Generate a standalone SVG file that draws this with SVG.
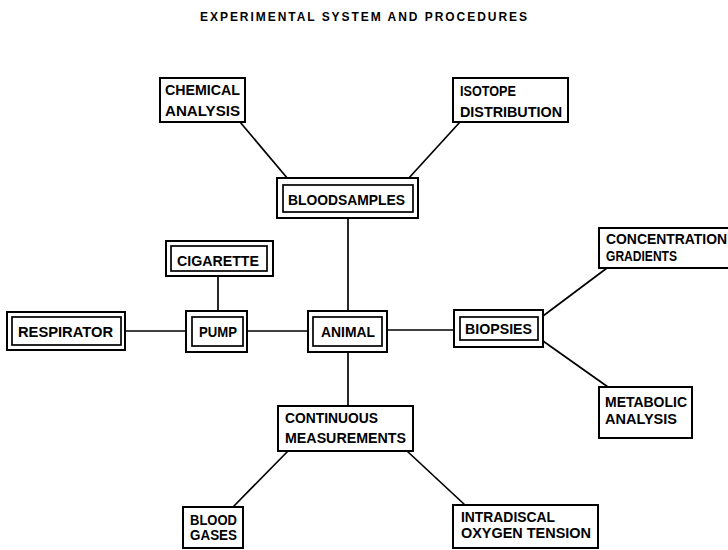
<svg xmlns="http://www.w3.org/2000/svg" width="728" height="550" viewBox="0 0 728 550">
<style>
.bg{fill:#fff}
.box{fill:#fff;stroke:#000;stroke-width:2}
.inner{fill:none;stroke:#000;stroke-width:1.7}
.ln{stroke:#000;stroke-width:1.7;fill:none}
text{font-family:"Liberation Sans",Arial,sans-serif;font-weight:bold;font-size:14px;fill:#000}
.title{font-size:12px}
</style>
<rect class="bg" x="0" y="0" width="728" height="550"/>
<text class="title" x="200" y="21" textLength="327" lengthAdjust="spacing">EXPERIMENTAL  SYSTEM  AND  PROCEDURES</text>
<g id="connectors">
<line class="ln" x1="240" y1="122" x2="288" y2="179"/>
<line class="ln" x1="460" y1="122" x2="408" y2="179"/>
<line class="ln" x1="348" y1="218" x2="348" y2="311"/>
<line class="ln" x1="218" y1="276" x2="218" y2="311"/>
<line class="ln" x1="125" y1="331" x2="186" y2="331"/>
<line class="ln" x1="247" y1="331" x2="308" y2="331"/>
<line class="ln" x1="387" y1="330" x2="454" y2="330"/>
<line class="ln" x1="543" y1="316" x2="607" y2="268"/>
<line class="ln" x1="543" y1="341" x2="608" y2="387"/>
<line class="ln" x1="348" y1="352" x2="348" y2="406"/>
<line class="ln" x1="288" y1="451" x2="233" y2="507"/>
<line class="ln" x1="407" y1="451" x2="465" y2="505"/>
</g>
<g id="chemical">
<rect class="box" x="160" y="78" width="85" height="44"/>
<text x="165" y="95" textLength="75" lengthAdjust="spacingAndGlyphs">CHEMICAL</text>
<text x="165" y="116" textLength="75" lengthAdjust="spacingAndGlyphs">ANALYSIS</text>
</g>
<g id="isotope">
<rect class="box" x="453" y="78" width="115" height="44"/>
<text x="460" y="96" textLength="56" lengthAdjust="spacingAndGlyphs">ISOTOPE</text>
<text x="460" y="117" textLength="102" lengthAdjust="spacingAndGlyphs">DISTRIBUTION</text>
</g>
<g id="bloodsamples">
<rect class="box" x="277" y="178" width="141" height="40"/>
<rect class="inner" x="283" y="185" width="130" height="27"/>
<text x="288" y="205" textLength="117" lengthAdjust="spacingAndGlyphs">BLOODSAMPLES</text>
</g>
<g id="cigarette">
<rect class="box" x="166" y="241" width="107" height="35"/>
<rect class="inner" x="171" y="246" width="96" height="25"/>
<text x="177" y="266" textLength="82" lengthAdjust="spacingAndGlyphs">CIGARETTE</text>
</g>
<g id="respirator">
<rect class="box" x="7" y="312" width="118" height="38"/>
<rect class="inner" x="12" y="317" width="109" height="28"/>
<text x="18" y="337" textLength="95" lengthAdjust="spacingAndGlyphs">RESPIRATOR</text>
</g>
<g id="pump">
<rect class="box" x="186" y="311" width="61" height="41"/>
<rect class="inner" x="192" y="317" width="51" height="29"/>
<text x="199" y="337" textLength="38" lengthAdjust="spacingAndGlyphs">PUMP</text>
</g>
<g id="animal">
<rect class="box" x="308" y="311" width="79" height="41"/>
<rect class="inner" x="313" y="317" width="69" height="29"/>
<text x="321" y="337" textLength="54" lengthAdjust="spacingAndGlyphs">ANIMAL</text>
</g>
<g id="biopsies">
<rect class="box" x="454" y="310" width="89" height="37"/>
<rect class="inner" x="460" y="317" width="78" height="23"/>
<text x="465" y="334" textLength="67" lengthAdjust="spacingAndGlyphs">BIOPSIES</text>
</g>
<g id="concentration">
<rect class="box" x="599" y="228" width="132" height="40"/>
<text x="606" y="244" textLength="121" lengthAdjust="spacingAndGlyphs">CONCENTRATION</text>
<text x="606" y="261" textLength="71" lengthAdjust="spacingAndGlyphs">GRADIENTS</text>
</g>
<g id="metabolic">
<rect class="box" x="599" y="387" width="93" height="51"/>
<text x="605" y="407" textLength="82" lengthAdjust="spacingAndGlyphs">METABOLIC</text>
<text x="605" y="424" textLength="72" lengthAdjust="spacingAndGlyphs">ANALYSIS</text>
</g>
<g id="continuous">
<rect class="box" x="278" y="406" width="135" height="45"/>
<text x="285" y="423" textLength="93" lengthAdjust="spacingAndGlyphs">CONTINUOUS</text>
<text x="285" y="443" textLength="121" lengthAdjust="spacingAndGlyphs">MEASUREMENTS</text>
</g>
<g id="bloodgases">
<rect class="box" x="183" y="507" width="60" height="41"/>
<text x="190" y="525" textLength="47" lengthAdjust="spacingAndGlyphs">BLOOD</text>
<text x="190" y="540" textLength="47" lengthAdjust="spacingAndGlyphs">GASES</text>
</g>
<g id="intradiscal">
<rect class="box" x="453" y="505" width="145" height="43"/>
<text x="461" y="522" textLength="94" lengthAdjust="spacingAndGlyphs">INTRADISCAL</text>
<text x="461" y="538" textLength="130" lengthAdjust="spacingAndGlyphs">OXYGEN  TENSION</text>
</g>
</svg>
